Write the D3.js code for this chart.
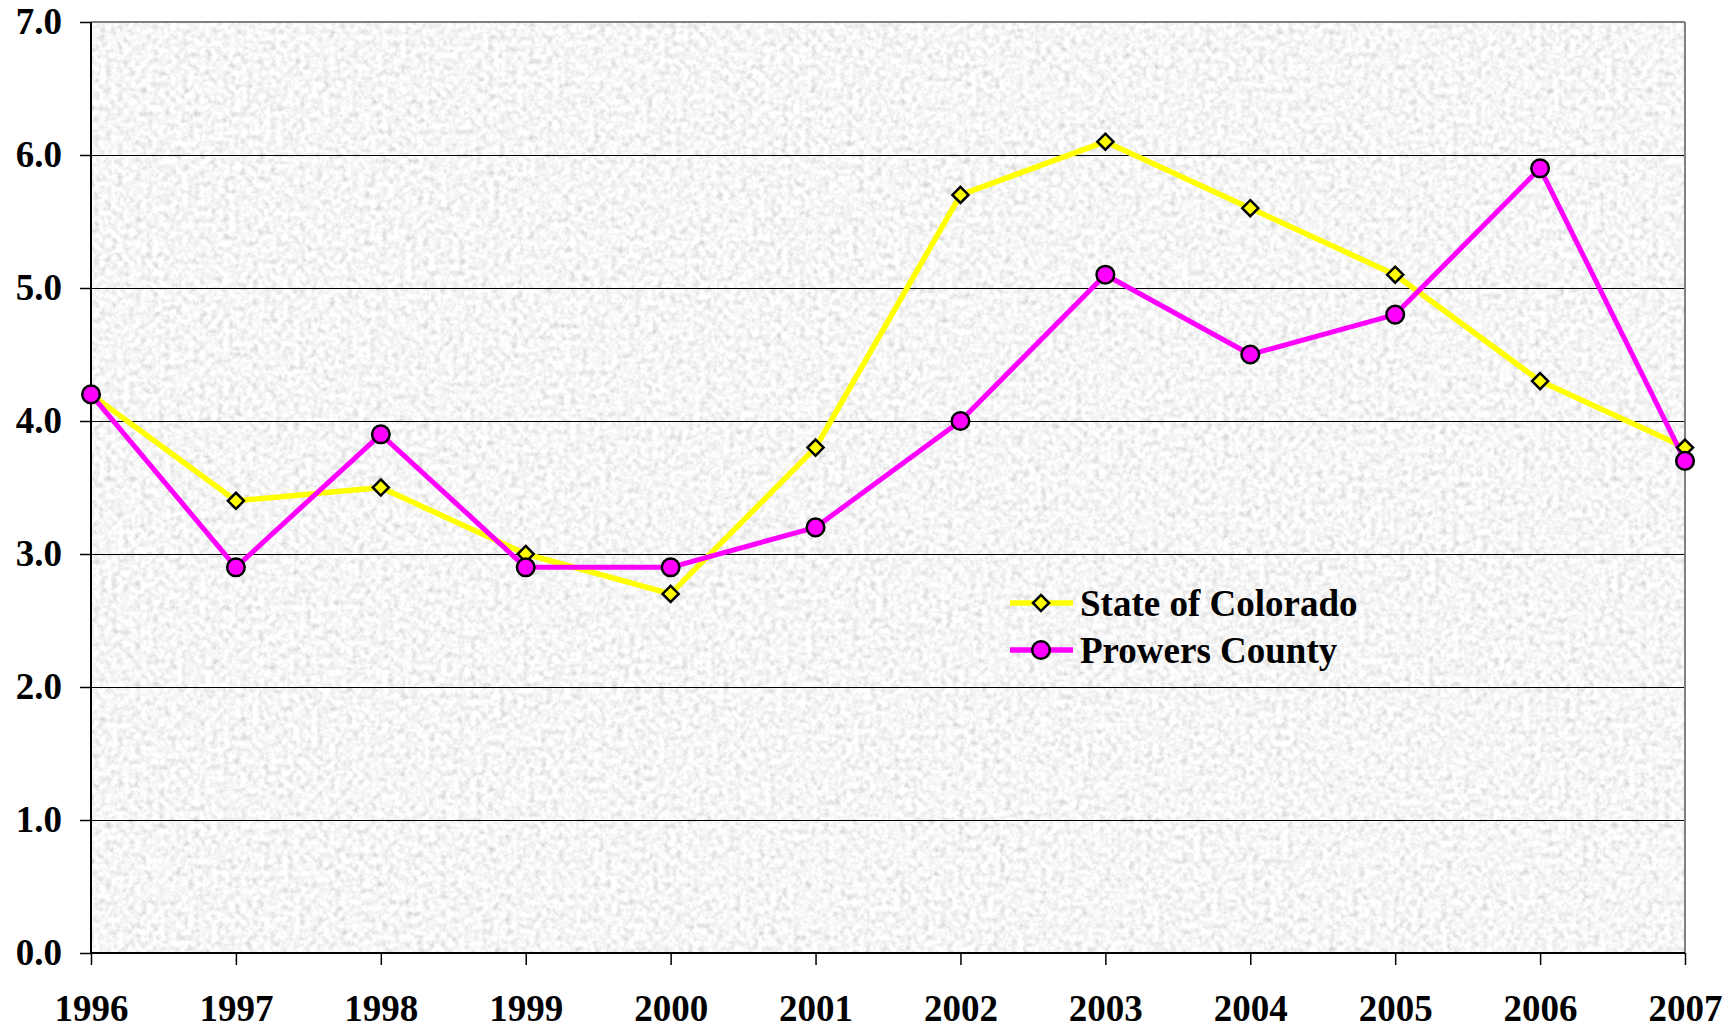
<!DOCTYPE html>
<html><head><meta charset="utf-8">
<script src="https://cdn.jsdelivr.net/npm/d3@7"></script>
<style>html,body{margin:0;padding:0;background:#fff;}svg{display:block;}</style>
</head><body>
<script>
const years = [1996,1997,1998,1999,2000,2001,2002,2003,2004,2005,2006,2007];
const colorado = [4.2,3.4,3.5,3.0,2.7,3.8,5.7,6.1,5.6,5.1,4.3,3.8];
const prowers = [4.2,2.9,3.9,2.9,2.9,3.2,4.0,5.1,4.5,4.8,5.9,3.7];
const yTicks = [0,1,2,3,4,5,6,7];
const seriesNames = ["State of Colorado","Prowers County"];

const W = 1736, H = 1029;
const m = {left:91, right:1685, top:22, bottom:953};
const svg = d3.select("body").append("svg").attr("width",W).attr("height",H);
const FONT = "'Liberation Serif','Times New Roman',Times,serif";

const x = d3.scaleLinear().domain([1996,2007]).range([m.left,m.right]);
const y = d3.scaleLinear().domain([0,7]).range([m.bottom,m.top]);

const defs = svg.append("defs");
const f = defs.append("filter").attr("id","granite").attr("x",0).attr("y",0).attr("width","100%").attr("height","100%");
f.append("feTurbulence").attr("type","fractalNoise").attr("baseFrequency","0.17").attr("numOctaves",3).attr("seed",7).attr("result","n");
f.append("feColorMatrix").attr("in","n").attr("type","matrix")
  .attr("values","0.42 0.42 0 0 0.5  0.42 0.42 0 0 0.5  0.42 0.42 0 0 0.5  0 0 0 0 1");

svg.append("rect").attr("x",m.left).attr("y",m.top).attr("width",m.right-m.left).attr("height",m.bottom-m.top)
  .attr("fill","#ececec");
svg.append("rect").attr("x",m.left).attr("y",m.top).attr("width",m.right-m.left).attr("height",m.bottom-m.top)
  .attr("filter","url(#granite)");

// gridlines
svg.append("g").selectAll("line").data(yTicks.filter(d=>d>0&&d<7)).join("line")
  .attr("x1",m.left).attr("x2",m.right).attr("y1",d=>y(d)+0.5).attr("y2",d=>y(d)+0.5)
  .attr("stroke","#000").attr("stroke-width",1);

// top and right border
svg.append("line").attr("x1",m.left).attr("x2",m.right).attr("y1",m.top).attr("y2",m.top).attr("stroke","#808080").attr("stroke-width",2);
svg.append("line").attr("x1",m.right).attr("x2",m.right).attr("y1",m.top).attr("y2",m.bottom).attr("stroke","#808080").attr("stroke-width",2);

// axes
const yAxis = svg.append("g").attr("transform",`translate(${m.left},0)`)
  .call(d3.axisLeft(y).tickValues(yTicks).tickFormat(d3.format(".1f")).tickSize(11).tickPadding(18));
const xAxis = svg.append("g").attr("transform",`translate(0,${m.bottom})`)
  .call(d3.axisBottom(x).tickValues(years).tickFormat(d3.format("d")).tickSize(12).tickPadding(30));
[yAxis,xAxis].forEach(a=>{
  a.select(".domain").attr("stroke","#000").attr("stroke-width",2);
  a.selectAll(".tick line").attr("stroke","#000").attr("stroke-width",1.5);
  a.selectAll("text").attr("font-family",FONT)
   .attr("font-weight","bold").attr("font-size",37).attr("fill","#000");
});
yAxis.select(".domain").attr("d",`M0,${m.top}V${m.bottom}`);
xAxis.select(".domain").attr("d",`M${m.left},0H${m.right}`);

const line = d3.line().x((d,i)=>x(years[i])).y(d=>y(d));
const diamond = d3.symbol().type(d3.symbolDiamond2).size(165);

function drawSeries(vals,color,lw){
  svg.append("path").datum(vals).attr("d",line).attr("fill","none").attr("stroke",color).attr("stroke-width",lw).attr("stroke-linejoin","round");
}
drawSeries(colorado,"#ffff00",5.5);
drawSeries(prowers,"#ff00ff",5);
svg.append("g").selectAll("path").data(colorado).join("path")
  .attr("transform",(d,i)=>`translate(${x(years[i])},${y(d)})`).attr("d",diamond)
  .attr("fill","#ffff00").attr("stroke","#000").attr("stroke-width",2.5);
svg.append("g").selectAll("circle").data(prowers).join("circle")
  .attr("cx",(d,i)=>x(years[i])).attr("cy",d=>y(d)).attr("r",8.8)
  .attr("fill","#ff00ff").attr("stroke","#000").attr("stroke-width",2.5);

// legend
const lg = svg.append("g");
const legY = [603,650];
const legColors = ["#ffff00","#ff00ff"];
seriesNames.forEach((name,i)=>{
  lg.append("line").attr("x1",1010).attr("x2",1073).attr("y1",legY[i]).attr("y2",legY[i]).attr("stroke",legColors[i]).attr("stroke-width",5.5);
  if(i===0){
    lg.append("path").attr("transform",`translate(1041,${legY[i]})`).attr("d",diamond).attr("fill","#ffff00").attr("stroke","#000").attr("stroke-width",2.5);
  } else {
    lg.append("circle").attr("cx",1041).attr("cy",legY[i]).attr("r",8.8).attr("fill","#ff00ff").attr("stroke","#000").attr("stroke-width",2.5);
  }
  lg.append("text").attr("x",1080).attr("y",legY[i]).attr("dy","0.35em").text(name)
    .attr("font-family",FONT).attr("font-weight","bold").attr("font-size",37);
});
</script>
</body></html>
